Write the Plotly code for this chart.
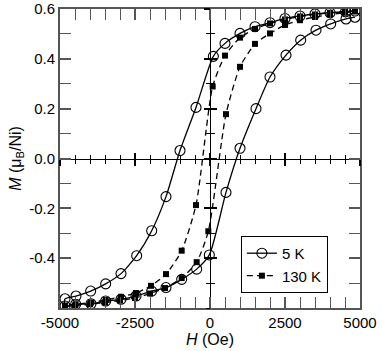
import plotly.graph_objects as go

# ---- data ----
# 5 K loop, descending field branch (+H -> -H)
H_5K_down = [4833, 4520, 4000, 3500, 3000, 2500, 2000, 1500, 1000, 500, 111,
             -467, -1000, -1467, -1944, -2444, -2967, -3478, -3978, -4467, -4833]
M_5K_down = [0.592, 0.589, 0.585, 0.580, 0.572, 0.562, 0.545, 0.529, 0.502, 0.462, 0.410,
             0.205, 0.032, -0.153, -0.290, -0.390, -0.462, -0.503, -0.532, -0.552, -0.563]
# 5 K loop, ascending field branch (-H -> +H)
H_5K_up = [-4833, -4478, -3967, -3478, -2967, -2467, -1944, -1467, -944, -444, -22,
           533, 1000, 1533, 2000, 2533, 3022, 3533, 4022, 4533, 4833]
M_5K_up = [-0.592, -0.585, -0.583, -0.572, -0.565, -0.552, -0.532, -0.518, -0.485, -0.444, -0.387,
           -0.136, 0.041, 0.200, 0.327, 0.415, 0.475, 0.515, 0.540, 0.560, 0.567]
# 130 K loop, descending branch
H_130K_down = [4833, 4500, 4000, 3500, 3000, 2500, 2000, 1500, 1000, 500, 89,
               -467, -944, -1467, -1967, -2467, -2967, -3478, -3967, -4478, -4833]
M_130K_down = [0.592, 0.590, 0.585, 0.578, 0.570, 0.558, 0.542, 0.520, 0.485, 0.413, 0.289,
               -0.187, -0.370, -0.464, -0.511, -0.540, -0.555, -0.568, -0.578, -0.585, -0.590]
# 130 K loop, ascending branch
H_130K_up = [-4833, -4500, -4000, -3500, -3000, -2500, -2000, -1500, -944, -444, -56,
             533, 1000, 1500, 2000, 2500, 3000, 3500, 4000, 4500, 4833]
M_130K_up = [-0.592, -0.590, -0.585, -0.578, -0.570, -0.560, -0.542, -0.520, -0.480, -0.416, -0.292,
             0.178, 0.368, 0.460, 0.502, 0.536, 0.555, 0.568, 0.578, 0.585, 0.590]

x_range = [-5000, 5000]
y_range = [-0.6, 0.6]
x_ticks = [-5000, -2500, 0, 2500, 5000]
x_ticklabels = ["-5000", "-2500", "0", "2500", "5000"]
y_ticks = [-0.4, -0.2, 0.0, 0.2, 0.4, 0.6]
y_ticklabels = ["-0.4", "-0.2", "0.0", "0.2", "0.4", "0.6"]

FONT = "Liberation Sans, Arial, sans-serif"
AX = "#555555"

fig = go.Figure()
fig.add_trace(go.Scatter(
    x=H_5K_down + H_5K_up, y=M_5K_down + M_5K_up, name="5 K",
    mode="lines+markers", line=dict(color="black", width=1.3, shape="spline", smoothing=0.6),
    marker=dict(symbol="circle-open", size=10, color="black", line=dict(width=1.1))))
fig.add_trace(go.Scatter(
    x=H_130K_down + H_130K_up, y=M_130K_down + M_130K_up, name="130 K",
    mode="lines+markers", line=dict(color="black", width=1.3, dash="6px,4px", shape="spline", smoothing=0.6),
    marker=dict(symbol="square", size=6, color="black")))

common_x = dict(range=x_range, showgrid=False, zeroline=False, automargin=False)
common_y = dict(range=y_range, showgrid=False, zeroline=False, automargin=False)

fig.update_layout(
    width=382, height=351,
    margin=dict(l=60, r=22, t=9, b=43),
    paper_bgcolor="white", plot_bgcolor="white",
    font=dict(family=FONT, size=15, color="black"),
    showlegend=True,
    legend=dict(x=0.603, y=0.241, xanchor="left", yanchor="top",
                bordercolor="black", borderwidth=1, bgcolor="white",
                font=dict(size=15), tracegroupgap=0, itemwidth=30),
    xaxis=dict(**common_x, tickmode="array", tickvals=x_ticks, ticktext=x_ticklabels,
               ticks="inside", ticklen=11, tickwidth=1.5, tickcolor=AX,
               showline=True, linecolor=AX, linewidth=2, mirror="allticks",
               minor=dict(dtick=500, ticks="inside", ticklen=6, tickwidth=1.2, tickcolor=AX),
               title=dict(text="<i>H</i> (Oe)", standoff=2, font=dict(size=16)),
               tickfont=dict(size=15)),
    yaxis=dict(**common_y, tickmode="array", tickvals=y_ticks, ticktext=y_ticklabels,
               ticks="inside", ticklen=11, tickwidth=1.5, tickcolor=AX,
               showline=True, linecolor=AX, linewidth=2, mirror="allticks",
               minor=dict(dtick=0.1, ticks="inside", ticklen=6, tickwidth=1.2, tickcolor=AX),
               title=dict(text="<i>M</i> (μ<sub>B</sub>/Ni)", standoff=4, font=dict(size=16)),
               tickfont=dict(size=15)),
)

# zero lines with crossing ticks, drawn as extra free axes
ypos0 = (0 - y_range[0]) / (y_range[1] - y_range[0])
xpos0 = (0 - x_range[0]) / (x_range[1] - x_range[0])
for name, tk in (("xaxis2", "inside"), ("xaxis3", "outside")):
    fig.update_layout({name: dict(**common_x, overlaying="x", anchor="free", position=ypos0,
                                  tickmode="array", tickvals=x_ticks, showticklabels=False,
                                  ticks=tk, ticklen=6, tickwidth=1.5, tickcolor="black",
                                  showline=True, linecolor="black", linewidth=1,
                                  minor=dict(dtick=500, ticks=tk, ticklen=4, tickwidth=1, tickcolor="black"))})
for name, tk in (("yaxis2", "inside"), ("yaxis3", "outside")):
    fig.update_layout({name: dict(**common_y, overlaying="y", anchor="free", position=xpos0,
                                  tickmode="array", tickvals=y_ticks, showticklabels=False,
                                  ticks=tk, ticklen=6, tickwidth=1.5, tickcolor="black",
                                  showline=True, linecolor="black", linewidth=1,
                                  minor=dict(dtick=0.1, ticks=tk, ticklen=4, tickwidth=1, tickcolor="black"))})

# dummy invisible traces so the overlay axes are drawn
for xa, ya in (("x2", "y"), ("x3", "y"), ("x", "y2"), ("x", "y3")):
    fig.add_trace(go.Scatter(x=[None], y=[None], xaxis=xa, yaxis=ya, showlegend=False, hoverinfo="skip"))

fig.write_html("out.html", config={"displayModeBar": False},
               post_script="document.body.style.margin='0';document.body.style.overflow='hidden';")
